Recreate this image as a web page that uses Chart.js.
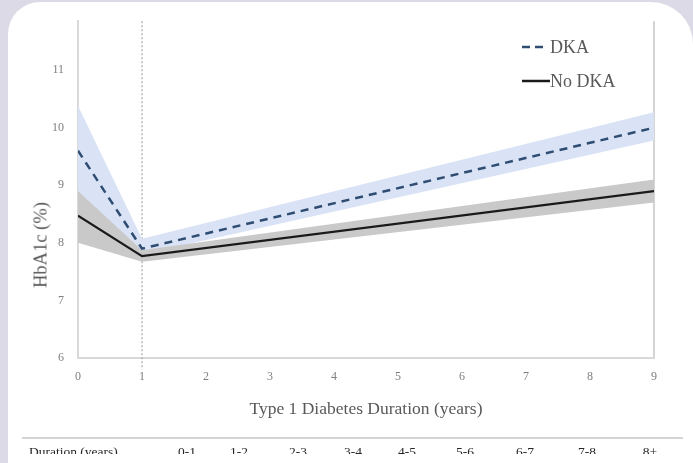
<!DOCTYPE html>
<html>
<head>
<meta charset="utf-8">
<script src="https://cdn.jsdelivr.net/npm/chart.js@4/dist/chart.umd.min.js"></script>
<style>
  html, body { margin: 0; padding: 0; }
  body { width: 693px; height: 463px; background: #dcdae6; position: relative; overflow: hidden; font-family: "Liberation Serif", serif; }
  #card { position: absolute; left: 8px; top: 2px; width: 685px; height: 480px; background: #fff; border-radius: 32px 42px 0 0; }
  #chart { position: absolute; left: 0; top: 0; }
  .txt { position: absolute; color: #595959; white-space: nowrap; }
  #ytitle { left: 41px; top: 245px; font-size: 18.5px; transform: translate(-50%, -50%) rotate(-90deg); }
  #xtitle { left: 366px; top: 408px; font-size: 17.5px; transform: translate(-50%, -50%); }
  #legend { position: absolute; left: 520px; top: 30px; }
  .leg { display: flex; align-items: center; height: 34px; font-size: 18px; color: #595959; }
  #rowline { position: absolute; left: 22px; top: 437px; width: 661px; height: 2px; background: #d4d4d4; }
  #row { position: absolute; left: 0; top: 444px; width: 693px; font-size: 13.5px; color: #262626; }
  #row span { position: absolute; top: 0; transform: translateX(-50%); }
  #bottom { position: absolute; left: 10px; top: 454px; right: 0; height: 20px; background: #fff; }
</style>
</head>
<body>
<div id="card"></div>
<canvas id="chart" width="693" height="463"></canvas>
<div class="txt" id="ytitle">HbA1c (%)</div>
<div class="txt" id="xtitle">Type 1 Diabetes Duration (years)</div>
<div id="legend">
  <div class="leg"><svg width="30" height="6"><line x1="2" y1="3" x2="28" y2="3" stroke="#2f4d72" stroke-width="2.5" stroke-dasharray="8,5"/></svg>DKA</div>
  <div class="leg"><svg width="30" height="6"><line x1="2" y1="3" x2="30" y2="3" stroke="#1a1a1a" stroke-width="2.5"/></svg>No DKA</div>
</div>
<div id="rowline"></div>
<div id="row"></div>
<div id="bottom"></div>
<script>
// years since diagnosis (x) and HbA1c (%)
const years = [0, 1, 9];
const dka = [9.6, 7.9, 10.0];
const dkaUpper = [10.38, 8.07, 10.27];
const dkaLower = [8.82, 7.8, 9.78];
const noDka = [8.47, 7.77, 8.9];
const noDkaUpper = [8.9, 7.87, 9.1];
const noDkaLower = [8.0, 7.67, 8.7];
const yTicks = [6, 7, 8, 9, 10, 11];
const xTicks = [0, 1, 2, 3, 4, 5, 6, 7, 8, 9];
const durationLabels = ['0-1', '1-2', '2-3', '3-4', '4-5', '5-6', '6-7', '7-8', '8+'];
const durationX = [187, 239, 298, 353, 407, 465, 525, 587, 650];

// bottom table row
const row = document.getElementById('row');
let html = '<span style="left:29px;transform:none">Duration (years)</span>';
durationLabels.forEach((d, i) => {
    html += `<span style="left:${durationX[i]}px">${d}</span>`;
});
row.innerHTML = html;

const pts = vals => years.map((x, i) => ({ x: x, y: vals[i] }));

const tickFont = { family: 'Liberation Serif', size: 12 };

// Chart.js paints the last dataset first, so the lines come first in the list
new Chart(document.getElementById('chart').getContext('2d'), {
    type: 'line',
    data: {
        datasets: [
            {
                label: 'No DKA', data: pts(noDka),
                borderColor: '#1a1a1a', borderWidth: 2.2,
                pointRadius: 0, tension: 0, fill: false
            },
            {
                label: 'DKA', data: pts(dka),
                borderColor: '#2f4d72', borderWidth: 2.5, borderDash: [8, 6],
                pointRadius: 0, tension: 0, fill: false
            },
            { data: pts(noDkaUpper), borderWidth: 0, borderColor: 'transparent', pointRadius: 0, fill: false },
            { data: pts(noDkaLower), borderWidth: 0, borderColor: 'transparent', pointRadius: 0, fill: '-1', backgroundColor: '#c9c9c9' },
            { data: pts(dkaUpper), borderWidth: 0, borderColor: 'transparent', pointRadius: 0, fill: false },
            { data: pts(dkaLower), borderWidth: 0, borderColor: 'transparent', pointRadius: 0, fill: '-1', backgroundColor: '#d9e3f5' },
            {   // vertical marker at year 1
                data: [{ x: 1, y: 11.85 }, { x: 1, y: 5.8 }],
                borderColor: '#a6a6a6', borderWidth: 1.2, borderDash: [2, 2],
                pointRadius: 0, clip: false
            }
        ]
    },
    options: {
        responsive: false,
        animation: false,
        events: [],
        layout: { padding: { left: 0, top: 13, right: 39, bottom: 0 } },
        plugins: { legend: { display: false }, tooltip: { enabled: false } },
        scales: {
            x: {
                type: 'linear', min: 0, max: 9,
                afterBuildTicks: s => { s.ticks = xTicks.map(v => ({ value: v })); },
                afterFit: s => { s.height = 105; },
                ticks: { color: '#7f7f7f', font: tickFont, padding: 12 },
                grid: {
                    drawTicks: false, lineWidth: 2,
                    color: c => (c.tick && c.tick.value === 9) ? '#d4d4d4' : 'transparent'
                },
                border: { color: '#d9d9d9', width: 2 }
            },
            y: {
                min: 6, max: 11.85,
                afterBuildTicks: s => { s.ticks = yTicks.map(v => ({ value: v })); },
                afterFit: s => { s.width = 78; },
                ticks: { color: '#7f7f7f', font: tickFont, padding: 14 },
                grid: { drawTicks: false, color: 'transparent' },
                border: { color: '#d9d9d9', width: 2 }
            }
        }
    }
});
</script>
</body>
</html>
